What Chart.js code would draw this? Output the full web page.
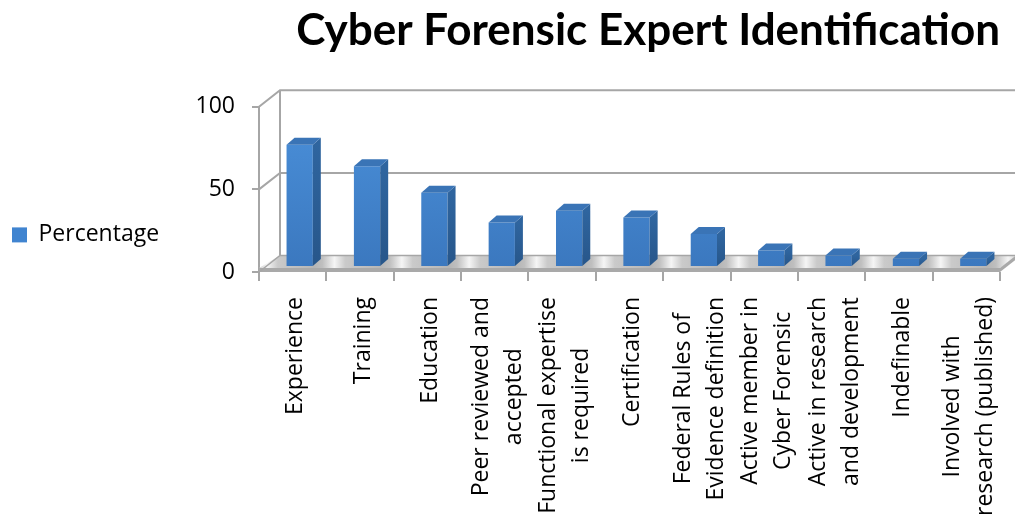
<!DOCTYPE html>
<html>
<head>
<meta charset="utf-8">
<script src="https://cdn.jsdelivr.net/npm/chart.js@4.4.1/dist/chart.umd.min.js"></script>
<style>
  html, body { margin: 0; padding: 0; background: #fff; }
  canvas { display: block; }
</style>
</head>
<body>
<canvas id="grafico" width="1015" height="516"></canvas>
<script>
// categorias y valores
const categorias = [
    ['Experience'],
    ['Training'],
    ['Education'],
    ['Peer reviewed and', 'accepted'],
    ['Functional expertise', 'is required'],
    ['Certification'],
    ['Federal Rules of', 'Evidence definition'],
    ['Active member in', 'Cyber Forensic'],
    ['Active in research', 'and development'],
    ['Indefinable'],
    ['Involved with', 'research (published)']
];
const porcentajes = [74, 61, 45, 27, 34, 30, 20, 10, 7, 5, 5];
const ticksY = [0, 50, 100];

// profundidad del "3D"
const PARED_DX = 21, PARED_DY = -16.5;   // pared de fondo
const BARRA_SX = 7, BARRA_SY = -5;       // desplazamiento de la cara frontal
const BARRA_DX = 8, BARRA_DY = -7;       // grosor de la barra
const GRIS = '#a6a6a6';
const FUENTE = '"Open Sans", "DejaVu Sans", sans-serif';

const efecto3D = {
    id: 'efecto3D',
    beforeDatasetsDraw(chart) {
        const { ctx, chartArea, scales: { x, y } } = chart;
        const x0 = chartArea.left, x1 = chartArea.right;
        const y0 = y.getPixelForValue(0);
        const derecha = chart.width + 30;

        ctx.save();
        ctx.strokeStyle = GRIS;
        ctx.lineWidth = 2;
        // lineas de la pared de fondo
        ticksY.filter(v => v > 0).forEach(v => {
            const py = y.getPixelForValue(v);
            ctx.beginPath();
            ctx.moveTo(x0, py);
            ctx.lineTo(x0 + PARED_DX, py + PARED_DY);
            ctx.lineTo(derecha, py + PARED_DY);
            ctx.stroke();
        });
        ctx.beginPath();
        ctx.moveTo(x0 + PARED_DX, y.getPixelForValue(100) + PARED_DY);
        ctx.lineTo(x0 + PARED_DX, y0 + PARED_DY);
        ctx.stroke();

        // piso: superficie con reflejos
        const paso = (x1 - x0) / categorias.length;
        const grad = ctx.createLinearGradient(x0, 0, x1 + paso, 0);
        const total = x1 + paso - x0;
        for (let i = 0; i <= categorias.length; i++) {
            const b = i * paso;
            const stops = [[0.0, '#d0d0d0'], [0.12, '#f5f5f5'], [0.28, '#cacaca'], [0.82, '#b5b5b5'], [0.94, '#bfbfbf']];
            stops.forEach(([f, c]) => {
                const p = (b + f * paso) / total;
                if (p >= 0 && p <= 1) grad.addColorStop(p, c);
            });
        }
        ctx.fillStyle = grad;
        ctx.beginPath();
        ctx.moveTo(x0, y0 - 4);
        ctx.lineTo(x1, y0 - 4);
        ctx.lineTo(x1 + PARED_DX, y0 + PARED_DY);
        ctx.lineTo(x0 + PARED_DX, y0 + PARED_DY);
        ctx.closePath();
        ctx.fill();
        // canto frontal del piso
        ctx.fillStyle = '#a9a9a9';
        ctx.beginPath();
        ctx.moveTo(x0, y0 - 4);
        ctx.lineTo(x1, y0 - 4);
        ctx.lineTo(x1, y0);
        ctx.lineTo(x0, y0);
        ctx.closePath();
        ctx.fill();
        ctx.beginPath();
        ctx.moveTo(x1, y0);
        ctx.lineTo(x1 + PARED_DX, y0 + PARED_DY);
        ctx.lineTo(x1 + PARED_DX, y0 + PARED_DY - 4);
        ctx.lineTo(x1, y0 - 4);
        ctx.fill();
        ctx.strokeStyle = GRIS;
        ctx.lineWidth = 1.5;
        ctx.beginPath();
        ctx.moveTo(x0, y0);
        ctx.lineTo(x0 + PARED_DX, y0 + PARED_DY);
        ctx.lineTo(derecha, y0 + PARED_DY);
        ctx.stroke();
        ctx.restore();

        // las barras se dibujan un poco hacia el fondo
        ctx.save();
        ctx.translate(BARRA_SX, BARRA_SY);
    },
    afterDatasetsDraw(chart) {
        const { ctx } = chart;
        ctx.restore();
        const meta = chart.getDatasetMeta(0);
        ctx.save();
        meta.data.forEach(bar => {
            const { x, y, base, width } = bar.getProps(['x', 'y', 'base', 'width'], true);
            const l = x - width / 2 + BARRA_SX, r = x + width / 2 + BARRA_SX;
            const t = y + BARRA_SY, b = base + BARRA_SY;
            // lado
            const gl = ctx.createLinearGradient(0, t, 0, b);
            gl.addColorStop(0, '#2f659f');
            gl.addColorStop(1, '#27568a');
            ctx.fillStyle = gl;
            ctx.beginPath();
            ctx.moveTo(r, t);
            ctx.lineTo(r + BARRA_DX, t + BARRA_DY);
            ctx.lineTo(r + BARRA_DX, b + BARRA_DY);
            ctx.lineTo(r, b);
            ctx.closePath();
            ctx.fill();
            // tapa
            ctx.fillStyle = '#3a74b6';
            ctx.beginPath();
            ctx.moveTo(l, t);
            ctx.lineTo(l + BARRA_DX, t + BARRA_DY);
            ctx.lineTo(r + BARRA_DX, t + BARRA_DY);
            ctx.lineTo(r, t);
            ctx.closePath();
            ctx.fill();
        });
        ctx.restore();
    },
    afterDraw(chart) {
        // etiquetas del eje x, giradas y centradas linea por linea
        const { ctx, scales: { x } } = chart;
        const alto = 33;
        ctx.save();
        ctx.font = '23px ' + FUENTE;
        ctx.fillStyle = '#000';
        ctx.textAlign = 'center';
        ctx.textBaseline = 'middle';
        chart.data.labels.forEach((lineas, i) => {
            const cx = x.getPixelForValue(i) + 3;
            const ancho = Math.max(...lineas.map(t => ctx.measureText(t).width));
            ctx.save();
            ctx.translate(cx, 297);
            ctx.rotate(-Math.PI / 2);
            lineas.forEach((t, j) => {
                ctx.fillText(t, -ancho / 2, (j - (lineas.length - 1) / 2) * alto);
            });
            ctx.restore();
        });
        ctx.restore();
    }
};

new Chart(document.getElementById('grafico'), {
    type: 'bar',
    data: {
        labels: categorias,
        datasets: [{
            label: 'Percentage',
            data: porcentajes,
            backgroundColor: ctx => {
                const area = ctx.chart.chartArea;
                if (!area) return '#4287d3';
                const g = ctx.chart.ctx.createLinearGradient(0, area.top, 0, area.bottom);
                g.addColorStop(0, '#4b91db');
                g.addColorStop(1, '#3b78bf');
                return g;
            },
            borderWidth: 0,
            barPercentage: 0.39,
            categoryPercentage: 1
        }]
    },
    options: {
        responsive: false,
        animation: false,
        devicePixelRatio: 1,
        layout: { padding: { left: 2, right: 15, top: 0, bottom: 0 } },
        plugins: {
            title: {
                display: true,
                text: 'Cyber Forensic Expert Identification',
                align: 'end',
                color: '#000',
                font: { family: 'Lato, "Open Sans", sans-serif', size: 44, weight: 'bold', lineHeight: 1.2 },
                padding: { top: 4, bottom: 50 }
            },
            legend: {
                position: 'left',
                align: 'start',
                title: { display: true, text: '', padding: { top: 199, bottom: 0 } },
                labels: {
                    boxWidth: 15,
                    boxHeight: 15,
                    color: '#000',
                    font: { family: FUENTE, size: 23 },
                    generateLabels: () => [{
                        text: 'Percentage',
                        fillStyle: '#4084d0',
                        strokeStyle: '#3a78c0',
                        fontColor: '#000',
                        lineWidth: 0,
                        hidden: false,
                        datasetIndex: 0
                    }]
                }
            },
            tooltip: { enabled: false }
        },
        scales: {
            x: {
                offset: true,
                grid: { offset: true, drawOnChartArea: false, drawTicks: true, tickLength: 9, color: GRIS, lineWidth: 2 },
                border: { display: false },
                ticks: { display: false },
                afterFit: s => { s.height = 244; }
            },
            y: {
                min: 0,
                max: 100,
                afterBuildTicks: s => { s.ticks = ticksY.map(v => ({ value: v })); },
                grid: { drawOnChartArea: false, drawTicks: true, tickLength: 7, color: GRIS, lineWidth: 2 },
                border: { display: true, color: GRIS, width: 2 },
                ticks: { color: '#000', padding: 17, font: { family: FUENTE, size: 23 } },
                afterFit: s => { s.width = 257 - (s.chart.legend ? s.chart.legend.width : 160); }
            }
        }
    },
    plugins: [efecto3D]
});
</script>
</body>
</html>
